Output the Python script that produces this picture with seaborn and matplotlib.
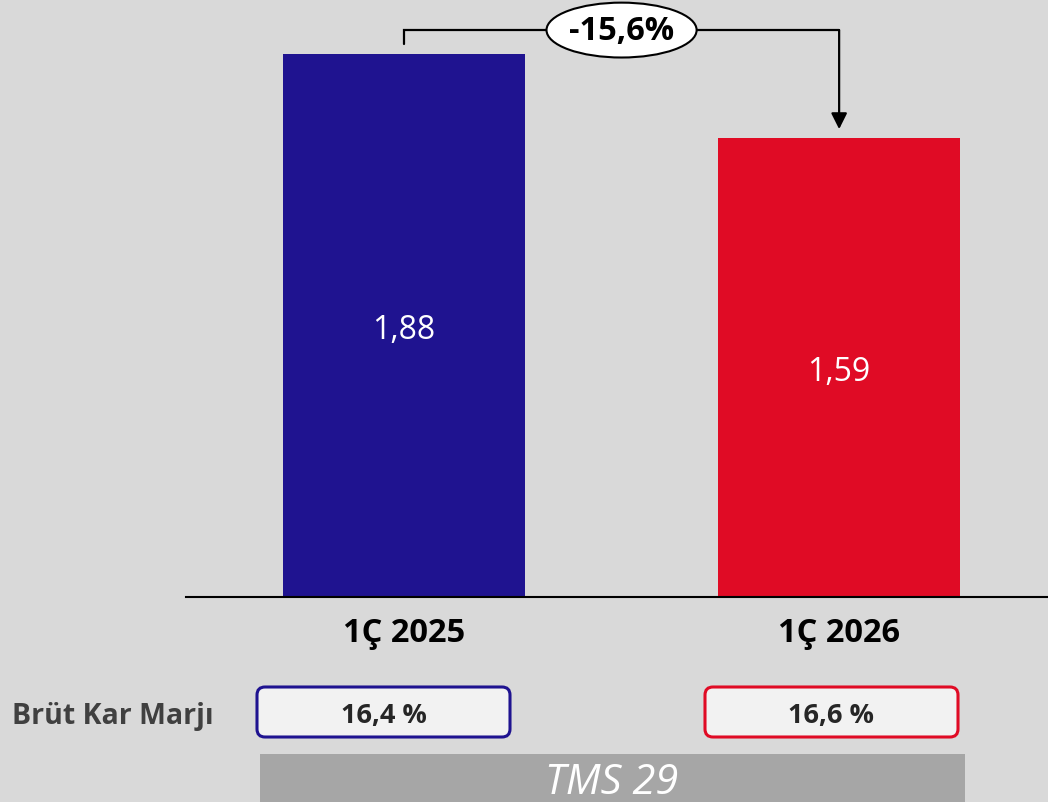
import pandas as pd
import seaborn as sns
import matplotlib.pyplot as plt
from matplotlib.patches import Ellipse, FancyBboxPatch, Rectangle

# chart data
periods = ["1Ç 2025", "1Ç 2026"]
values = [1.88, 1.59]
value_labels = ["1,88", "1,59"]
change_label = "-15,6%"
margin_title = "Brüt Kar Marjı"
margins = ["16,4 %", "16,6 %"]
footer = "TMS 29"
bar_colors = ["#1f1390", "#e00b25"]

sns.set_theme(style="white")
plt.rcParams["font.family"] = ["Open Sans", "DejaVu Sans"]

bg = "#d9d9d9"
fig = plt.figure(figsize=(10.48, 8.03), dpi=100, facecolor=bg)
ax = fig.add_axes([186 / 1048, 205 / 803, 862 / 1048, 598 / 803])
ax.set_facecolor(bg)

df = pd.DataFrame({"period": periods, "value": values})
sns.barplot(data=df, x="period", y="value", hue="period", palette=bar_colors,
            width=0.556, saturation=1, legend=False, linewidth=0, ax=ax)

ax.set_xlim(-0.501, 1.480)
ax.set_ylim(0, 2.0706)
for side in ["left", "top", "right"]:
    ax.spines[side].set_visible(False)
ax.spines["bottom"].set_color("black")
ax.spines["bottom"].set_linewidth(1.5)
ax.set_yticks([])
ax.set_xlabel("")
ax.set_ylabel("")
ax.tick_params(axis="x", length=0, pad=14, labelsize=23.5, labelcolor="black")
for lbl in ax.get_xticklabels():
    lbl.set_fontweight("bold")

# values inside bars
for i, (v, t) in enumerate(zip(values, value_labels)):
    ax.text(i, v / 2 - 0.015, t, ha="center", va="center", color="white", fontsize=23)

# change bracket with arrow
y_top = max(values) + 0.083
ax.plot([0, 0, 1], [values[0] + 0.035, y_top, y_top], color="black", lw=1.6,
        clip_on=False, solid_joinstyle="miter", zorder=3)
ax.annotate("", xy=(1, values[1] + 0.03), xytext=(1, y_top),
            arrowprops=dict(arrowstyle="-|>", color="black", lw=1.6,
                            mutation_scale=24, shrinkA=0, shrinkB=0),
            annotation_clip=False, zorder=3)
ax.add_patch(Ellipse((0.5, y_top), 0.345, 0.19, facecolor="white",
                     edgecolor="black", lw=1.5, clip_on=False, zorder=4))
ax.text(0.5, y_top, change_label, ha="center", va="center", fontsize=23.5,
        fontweight="bold", color="black", zorder=5)

# bottom panel in pixel coordinates
ov = fig.add_axes([0, 0, 1, 1])
ov.set_xlim(0, 1048)
ov.set_ylim(803, 0)
ov.axis("off")
ov.patch.set_alpha(0)

ov.text(12, 717, margin_title, ha="left", va="center", fontsize=20.5,
        fontweight="bold", color="#404040")
for i, (m, c) in enumerate(zip(margins, bar_colors)):
    x0 = 257 + i * 448
    ov.add_patch(FancyBboxPatch((x0, 688), 253, 50,
                                boxstyle="round,pad=0,rounding_size=8",
                                facecolor="#f2f2f2", edgecolor=c, lw=2.2))
    ov.text(x0 + 126.5, 716, m, ha="center", va="center", fontsize=19.5,
            fontweight="bold", color="#262626")

ov.add_patch(Rectangle((260, 755), 705, 60, facecolor="#a6a6a6", edgecolor="none"))
ov.text(612, 783, footer, ha="center", va="center", fontsize=30,
        fontstyle="italic", color="white")

fig.savefig("out.png", dpi=100, facecolor=bg)
